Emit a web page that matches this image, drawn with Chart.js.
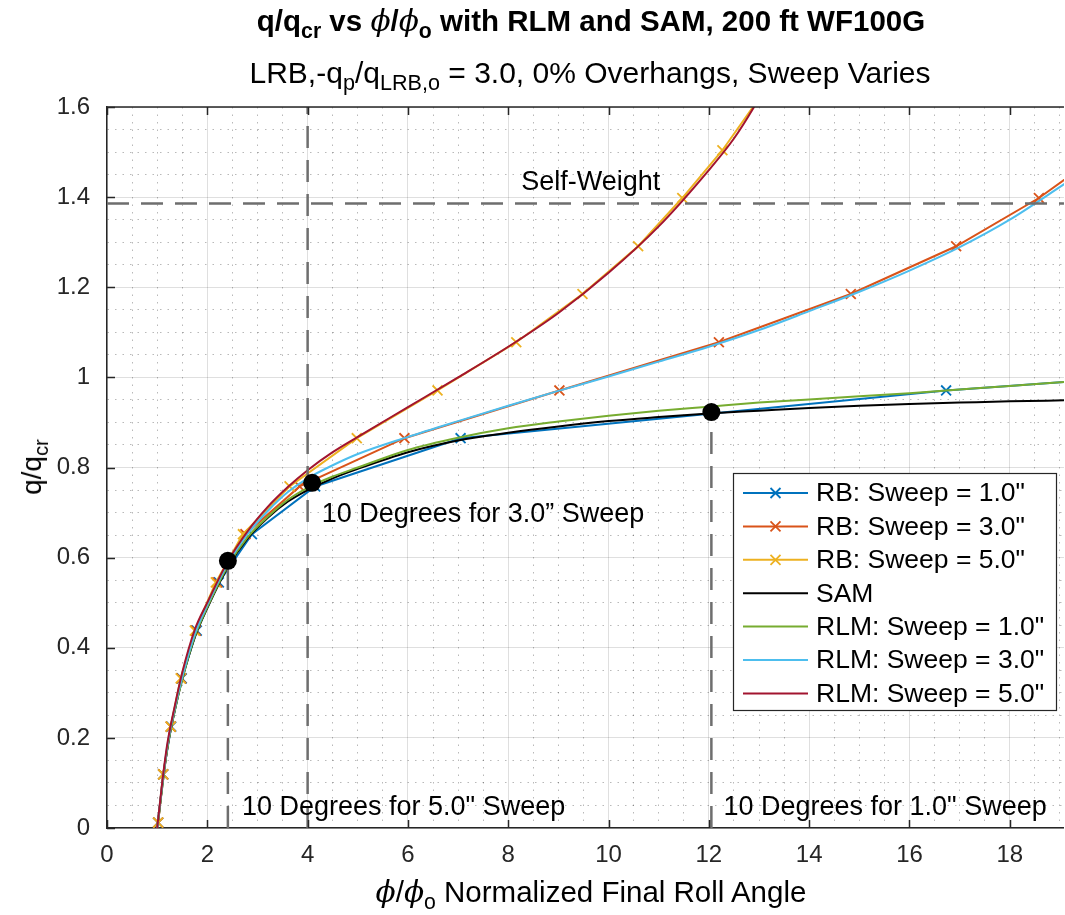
<!DOCTYPE html>
<html>
<head>
<meta charset="utf-8">
<title>q/qcr vs phi/phio with RLM and SAM</title>
<script src="https://cdn.jsdelivr.net/npm/chart.js@4.4.1/dist/chart.umd.min.js"></script>
<style>
  html, body { margin:0; padding:0; background:#ffffff; }
  #wrap { position:relative; width:1065px; height:915px; overflow:hidden;
          font-family:"Liberation Sans", Arial, Helvetica, sans-serif; color:#000; }
  #chart { position:absolute; left:0; top:0; }
  .lbl { position:absolute; white-space:nowrap; line-height:1; }
  .sub { font-size:72%; position:relative; top:0.34em; }
  .phi { font-family:"DejaVu Serif", serif; font-style:italic; font-weight:normal; }
</style>
</head>
<body>
<div id="wrap">
  <canvas id="chart" width="1073" height="915"></canvas>
  <div id="title" class="lbl" style="left:591px;top:6px;transform:translateX(-50%);font-weight:bold;font-size:29.5px;">q/q<span class="sub">cr</span> vs <span class="phi">ϕ</span>/<span class="phi">ϕ</span><span class="sub">o</span> with RLM and SAM, 200 ft WF100G</div>
  <div id="subtitle" class="lbl" style="left:590px;top:58px;transform:translateX(-50%);font-size:30px;">LRB,-q<span class="sub">p</span>/q<span class="sub">LRB,o</span> = 3.0, 0% Overhangs, Sweep Varies</div>
  <div id="xlabel" class="lbl" style="left:591px;top:877px;transform:translateX(-50%);font-size:29.5px;"><span class="phi">ϕ</span>/<span class="phi">ϕ</span><span class="sub">o</span> Normalized Final Roll Angle</div>
  <div id="ylabel" class="lbl" style="left:32px;top:467px;transform:translate(-50%,-50%) rotate(-90deg);font-size:28px;">q/q<span class="sub">cr</span></div>
</div>
<script>
// ---------------- data ----------------
const rb1X = [1.02, 1.12, 1.28, 1.49, 1.79, 2.23, 2.89, 4.15, 7.05, 16.73, 30.2];
const rb1Y = [0.012, 0.119, 0.225, 0.332, 0.438, 0.545, 0.652, 0.758, 0.865, 0.971, 1.078];

const rb3X = [1.02, 1.12, 1.27, 1.48, 1.77, 2.20, 2.76, 3.84, 5.93, 9.02, 12.20, 14.83, 16.93, 18.58, 19.90];
const rb3Y = [0.012, 0.119, 0.225, 0.332, 0.438, 0.545, 0.652, 0.758, 0.865, 0.971, 1.078, 1.185, 1.291, 1.398, 1.504];

const rb5X = [1.02, 1.12, 1.27, 1.47, 1.75, 2.17, 2.71, 3.64, 4.98, 6.59, 8.16, 9.48, 10.59, 11.47, 12.27, 12.95];
const rb5Y = [0.012, 0.119, 0.225, 0.332, 0.438, 0.545, 0.652, 0.758, 0.865, 0.971, 1.078, 1.185, 1.291, 1.398, 1.504, 1.611];

const samX = [1.0, 1.05, 1.1, 1.2, 1.35, 1.5, 1.75, 2.0, 2.4, 2.8, 3.2, 3.6, 4.0, 4.5, 5, 6, 7, 8, 9, 10, 11, 12, 13, 14, 15, 16, 17, 18, 19.1];
const samY = [0, 0.045, 0.09, 0.175, 0.26, 0.33, 0.423, 0.488, 0.577, 0.642, 0.688, 0.724, 0.75, 0.776, 0.797, 0.834, 0.86, 0.877, 0.891, 0.903, 0.912, 0.92, 0.926, 0.932, 0.937, 0.941, 0.944, 0.947, 0.949];

const rlm1X = [1.0, 1.05, 1.1, 1.2, 1.35, 1.5, 1.75, 2.0, 2.4, 2.8, 3.2, 3.6, 4.0, 4.5, 5, 6, 7, 8, 9, 10, 11, 12, 13, 14, 15, 16, 17, 18, 19.1];
const rlm1Y = [0, 0.045, 0.09, 0.175, 0.26, 0.33, 0.425, 0.49, 0.58, 0.645, 0.69, 0.728, 0.755, 0.78, 0.80, 0.839, 0.866, 0.887, 0.902, 0.915, 0.926, 0.935, 0.944, 0.951, 0.958, 0.965, 0.973, 0.981, 0.99];

const rlm3X = [1.0, 1.05, 1.1, 1.2, 1.35, 1.5, 1.75, 2.0, 2.4, 2.8, 3.2, 3.6, 4.0, 4.5, 5, 6, 7, 8, 9, 10, 11, 12, 13, 14, 15, 16, 17, 18, 19.1];
const rlm3Y = [0, 0.048, 0.095, 0.18, 0.265, 0.335, 0.43, 0.495, 0.585, 0.652, 0.703, 0.745, 0.776, 0.805, 0.83, 0.868, 0.903, 0.937, 0.97, 1.002, 1.035, 1.068, 1.105, 1.147, 1.19, 1.237, 1.289, 1.35, 1.43];

const rlm5X = [1.0, 1.05, 1.1, 1.2, 1.35, 1.5, 1.75, 2.0, 2.4, 2.8, 3.2, 3.6, 4.0, 4.5, 5, 6, 7, 8, 9, 10, 11, 12, 12.5, 12.9, 13.2];
const rlm5Y = [0, 0.05, 0.10, 0.185, 0.27, 0.345, 0.44, 0.50, 0.59, 0.658, 0.712, 0.756, 0.794, 0.834, 0.868, 0.934, 1.0, 1.068, 1.143, 1.232, 1.335, 1.46, 1.53, 1.6, 1.66];

const dotX = [2.41, 4.09, 12.05];
const dotY = [0.593, 0.766, 0.923];

const selfWeightY = 1.386;
const guideX = [2.41, 4.0, 12.05];
const guideTopY = [0.593, 1.6, 0.923];

const seriesNames = ['RB: Sweep = 1.0"', 'RB: Sweep = 3.0"', 'RB: Sweep = 5.0"', 'SAM',
                     'RLM: Sweep = 1.0"', 'RLM: Sweep = 3.0"', 'RLM: Sweep = 5.0"'];

const xMajorTicks = [0, 2, 4, 6, 8, 10, 12, 14, 16, 18];
const xTickLabels = ['0', '2', '4', '6', '8', '10', '12', '14', '16', '18'];
const yMajorTicks = [0, 0.2, 0.4, 0.6, 0.8, 1.0, 1.2, 1.4, 1.6];
const yTickLabels = ['0', '0.2', '0.4', '0.6', '0.8', '1', '1.2', '1.4', '1.6'];

const annotations = [
  { text: 'Self-Weight', x: 8.26, y: 1.416 },
  { text: '10 Degrees for 3.0\u201D Sweep', x: 4.28, y: 0.679 },
  { text: '10 Degrees for 5.0" Sweep', x: 2.69, y: 0.029 },
  { text: '10 Degrees for 1.0" Sweep', x: 12.29, y: 0.029 }
];

// ---------------- styling ----------------
const X_MAX = 19.08, Y_MAX = 1.6;
const FONT = '"Liberation Sans", Arial, Helvetica, sans-serif';
const AXIS = '#262626';
const MAJOR_GRID = 'rgba(38,38,38,0.15)';
const MINOR_GRID = 'rgba(38,38,38,0.32)';
const GUIDE = '#6e6e6e';
const COLORS = ['#0072BD', '#D95319', '#EDB120', '#000000', '#77AC30', '#4DBEEE', '#A2142F'];

const pts = (xs, ys) => xs.map((x, i) => ({ x: x, y: ys[i] }));
const findIdx = (arr, v) => arr.findIndex(t => Math.abs(t - v) < 1e-6);
const inRange = p => p && p.x <= X_MAX + 1e-9 && p.y <= Y_MAX + 1e-9;

function rbSet(label, xs, ys, color, order) {
  return { label, data: pts(xs, ys), borderColor: color, backgroundColor: color, borderWidth: 2,
    showLine: true, tension: 0, pointStyle: 'crossRot', pointBorderColor: color, pointBorderWidth: 1.8,
    pointRadius: ctx => inRange(ctx.raw) ? 7 : 0, order };
}
function curveSet(label, xs, ys, color, order) {
  return { label, data: pts(xs, ys), borderColor: color, backgroundColor: color, borderWidth: 2,
    showLine: true, cubicInterpolationMode: 'monotone', pointRadius: 0, order };
}
function guideSet(data) {
  return { label: '_guide', data, borderColor: GUIDE, borderWidth: 2.5, borderDash: [22, 12],
    showLine: true, pointRadius: 0, order: 0 };
}

const datasets = [
  rbSet(seriesNames[0], rb1X, rb1Y, COLORS[0], 7),
  rbSet(seriesNames[1], rb3X, rb3Y, COLORS[1], 6),
  rbSet(seriesNames[2], rb5X, rb5Y, COLORS[2], 5),
  curveSet(seriesNames[3], samX, samY, COLORS[3], 4),
  curveSet(seriesNames[4], rlm1X, rlm1Y, COLORS[4], 3),
  curveSet(seriesNames[5], rlm3X, rlm3Y, COLORS[5], 2),
  curveSet(seriesNames[6], rlm5X, rlm5Y, COLORS[6], 1),
  guideSet([{ x: 0, y: selfWeightY }, { x: X_MAX, y: selfWeightY }]),
  guideSet([{ x: guideX[0], y: 0 }, { x: guideX[0], y: guideTopY[0] }]),
  guideSet([{ x: guideX[1], y: 0 }, { x: guideX[1], y: guideTopY[1] }]),
  guideSet([{ x: guideX[2], y: 0 }, { x: guideX[2], y: guideTopY[2] }]),
  { label: '_dots', data: pts(dotX, dotY), showLine: false, pointRadius: 9, pointStyle: 'circle',
    pointBackgroundColor: '#000', pointBorderColor: '#000', pointBorderWidth: 0, order: -1 }
];

// ---------------- decorations: box, inward ticks, texts, legend ----------------
const decor = {
  id: 'decor',
  afterDatasetsDraw(chart) {
    const { ctx, chartArea: a, scales } = chart;
    const xs = scales.x, ys = scales.y;
    ctx.save();
    ctx.strokeStyle = AXIS;
    ctx.lineWidth = 1.5;
    ctx.setLineDash([]);
    ctx.beginPath();
    ctx.moveTo(a.left, a.top); ctx.lineTo(a.right, a.top);
    ctx.stroke();
    // inward major tick marks
    ctx.beginPath();
    xMajorTicks.forEach(v => {
      const px = Math.round(xs.getPixelForValue(v)) + 0.5;
      ctx.moveTo(px, a.bottom); ctx.lineTo(px, a.bottom - 8);
      ctx.moveTo(px, a.top); ctx.lineTo(px, a.top + 8);
    });
    yMajorTicks.forEach(v => {
      const py = Math.round(ys.getPixelForValue(v)) + 0.5;
      ctx.moveTo(a.left, py); ctx.lineTo(a.left + 8, py);
    });
    ctx.stroke();

    // text annotations
    ctx.fillStyle = '#000';
    ctx.font = '27px ' + FONT;
    ctx.textAlign = 'left';
    ctx.textBaseline = 'alphabetic';
    annotations.forEach(an => ctx.fillText(an.text, xs.getPixelForValue(an.x), ys.getPixelForValue(an.y)));

    // legend
    const bx = 733, by = 473, bw = 323, bh = 237;
    ctx.fillStyle = '#fff';
    ctx.fillRect(bx, by, bw, bh);
    ctx.strokeStyle = AXIS; ctx.lineWidth = 1.2;
    ctx.strokeRect(bx + 0.5, by + 0.5, bw, bh);
    ctx.font = '26.5px ' + FONT;
    ctx.textBaseline = 'middle';
    seriesNames.forEach((name, i) => {
      const ds = chart.data.datasets[i];
      const cy = 493 + i * 33.4;
      ctx.strokeStyle = ds.borderColor; ctx.lineWidth = 2;
      ctx.beginPath(); ctx.moveTo(743, cy); ctx.lineTo(808, cy); ctx.stroke();
      if (ds.pointStyle === 'crossRot') {
        const s = 5, cx = 775.5;
        ctx.lineWidth = 1.8;
        ctx.beginPath();
        ctx.moveTo(cx - s, cy - s); ctx.lineTo(cx + s, cy + s);
        ctx.moveTo(cx - s, cy + s); ctx.lineTo(cx + s, cy - s);
        ctx.stroke();
      }
      ctx.fillStyle = '#000';
      ctx.fillText(name, 816, cy + 1);
    });
    ctx.restore();
  }
};

Chart.defaults.font.family = FONT;

new Chart(document.getElementById('chart'), {
  type: 'scatter',
  data: { datasets },
  options: {
    responsive: false,
    maintainAspectRatio: false,
    animation: false,
    events: [],
    layout: { padding: { left: 0, top: 107, right: 0, bottom: 0 } },
    plugins: { legend: { display: false }, tooltip: { enabled: false }, title: { display: false } },
    scales: {
      x: {
        type: 'linear', min: 0, max: X_MAX,
        ticks: {
          stepSize: 0.5, autoSkip: false, includeBounds: false, maxRotation: 0, minRotation: 0,
          padding: 13, color: AXIS, font: { size: 24, family: FONT },
          callback: v => { const k = findIdx(xMajorTicks, v); return k >= 0 ? xTickLabels[k] : ''; }
        },
        grid: {
          drawTicks: false, lineWidth: 1,
          color: c => (c.tick && findIdx(xMajorTicks, c.tick.value) < 0) ? MINOR_GRID : MAJOR_GRID
        },
        border: {
          display: true, color: AXIS, width: 1.5,
          dash: c => (c.tick && findIdx(xMajorTicks, c.tick.value) < 0) ? [1.5, 6] : []
        },
        afterFit: s => { s.height = 87; }
      },
      y: {
        type: 'linear', min: 0, max: Y_MAX,
        ticks: {
          stepSize: 0.05, autoSkip: false, includeBounds: false,
          padding: 17, color: AXIS, font: { size: 24, family: FONT },
          callback: v => { const k = findIdx(yMajorTicks, v); return k >= 0 ? yTickLabels[k] : ''; }
        },
        grid: {
          drawTicks: false, lineWidth: 1,
          color: c => (c.tick && findIdx(yMajorTicks, c.tick.value) < 0) ? MINOR_GRID : MAJOR_GRID
        },
        border: {
          display: true, color: AXIS, width: 1.5,
          dash: c => (c.tick && findIdx(yMajorTicks, c.tick.value) < 0) ? [1.5, 6] : []
        },
        afterFit: s => { s.width = 107; }
      }
    }
  },
  plugins: [decor]
});
</script>
</body>
</html>
